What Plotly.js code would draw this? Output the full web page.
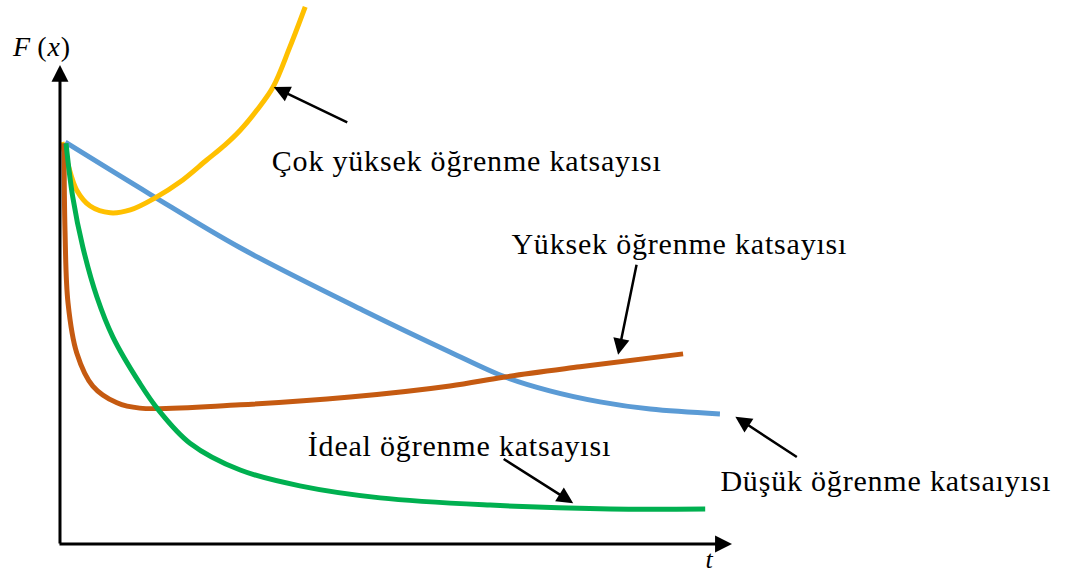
<!DOCTYPE html>
<html>
<head>
<meta charset="utf-8">
<script src="https://cdn.plot.ly/plotly-3.0.1.min.js"></script>
<style>
  html, body { margin: 0; padding: 0; background: #fff; }
  #chart { width: 1065px; height: 575px; }
  #chart .annotation-text { letter-spacing: 0.8px; }
</style>
</head>
<body>
<div id="chart"></div>
<script>
// Loss curves F(x) over time t for four learning rates (schematic values)
const tLow   = [0.05, 1.31, 2.66, 4.49, 5.79, 6.61, 7.28, 8.03, 8.78, 9.82];
const fLow   = [8.35, 7.27, 6.15, 4.85, 3.98, 3.46, 3.17, 2.94, 2.79, 2.69];

const tVeryHigh = [0, 0.09, 0.22, 0.42, 0.72, 1.02, 1.39, 1.76, 2.16, 2.43, 2.66, 2.91, 3.15, 3.4, 3.63];
const fVeryHigh = [8.35, 7.88, 7.35, 7.02, 6.88, 6.94, 7.19, 7.52, 7.98, 8.29, 8.6, 9.02, 9.5, 10.33, 11.17];

const tHigh  = [0.03, 0.045, 0.09, 0.22, 0.46, 0.82, 1.16, 2.66, 4.3, 5.79, 6.61, 7.73, 9.27];
const fHigh  = [8.33, 6.5, 5.0, 3.96, 3.27, 2.92, 2.81, 2.88, 3.04, 3.27, 3.46, 3.67, 3.94];

const tIdeal = [0.06, 0.16, 0.31, 0.52, 0.76, 1.16, 1.43, 1.91, 2.66, 3.55, 4.75, 6.39, 8.18, 9.6];
const fIdeal = [8.33, 7.21, 6.17, 5.13, 4.29, 3.33, 2.79, 2.08, 1.52, 1.19, 0.94, 0.79, 0.71, 0.71];

const labels = [
  'Çok yüksek öğrenme katsayısı',
  'Yüksek öğrenme katsayısı',
  'Düşük öğrenme katsaıyısı',
  'İdeal öğrenme katsayısı'
];

const SERIF = '"Liberation Serif", "Times New Roman", serif';

function curve(t, f, color) {
  return {
    x: t, y: f, type: 'scatter', mode: 'lines',
    line: { color: color, width: 5, shape: 'spline', smoothing: 1 },
    hoverinfo: 'skip'
  };
}

const traces = [
  curve(tLow, fLow, '#5B9BD5'),
  curve(tVeryHigh, fVeryHigh, '#FFC000'),
  curve(tHigh, fHigh, '#C55A11'),
  curve(tIdeal, fIdeal, '#00B050')
];

function pointer(x, y, ax, ay, opts) {
  return Object.assign({
    x: x, y: y, ax: ax, ay: ay, xref: 'x', yref: 'y', axref: 'x', ayref: 'y',
    text: '', showarrow: true, arrowhead: 2, arrowsize: 1.3, arrowwidth: 2.5,
    arrowcolor: '#000', standoff: 0, startstandoff: 0
  }, opts || {});
}

function label(text, x, y, opts) {
  return Object.assign({
    x: x, y: y, xref: 'x', yref: 'y', text: text, showarrow: false,
    xanchor: 'left', yanchor: 'middle',
    font: { family: SERIF, size: 30, color: '#000' }
  }, opts || {});
}

const annotations = [
  // axes with arrowheads
  pointer(-0.03, 9.96, -0.03, -0.04, { arrowwidth: 3, arrowsize: 1.13 }),
  pointer(10.0, -0.02, -0.06, -0.02, { arrowwidth: 3, arrowsize: 1.13 }),
  label('<i>F</i>\u2009(<i>x</i>)', -0.31, 10.35, { xanchor: 'center', font: { family: SERIF, size: 28, color: '#000' } }),
  label('<i>t</i>', 9.67, -0.34, { xanchor: 'center', font: { family: SERIF, size: 26, color: '#000' } }),
  // curve labels and their pointers
  label(labels[0], 3.27, 7.96),
  pointer(3.16, 9.5, 4.28, 8.75),
  label(labels[1], 6.82, 6.25),
  pointer(8.3, 3.92, 8.58, 5.83),
  label(labels[2], 9.94, 1.31),
  pointer(10.05, 2.63, 10.99, 1.77),
  label(labels[3], 3.77, 2.04),
  pointer(7.63, 0.83, 6.57, 1.77)
];

const layout = {
  width: 1065, height: 575,
  margin: { l: 0, r: 0, t: 0, b: 0 },
  paper_bgcolor: '#fff', plot_bgcolor: '#fff',
  showlegend: false,
  xaxis: { range: [-0.9254, 14.9701], visible: false, fixedrange: true },
  yaxis: { range: [-0.6667, 11.3125], visible: false, fixedrange: true },
  annotations: annotations
};

Plotly.newPlot('chart', traces, layout, { displayModeBar: false, staticPlot: true });
</script>
</body>
</html>
